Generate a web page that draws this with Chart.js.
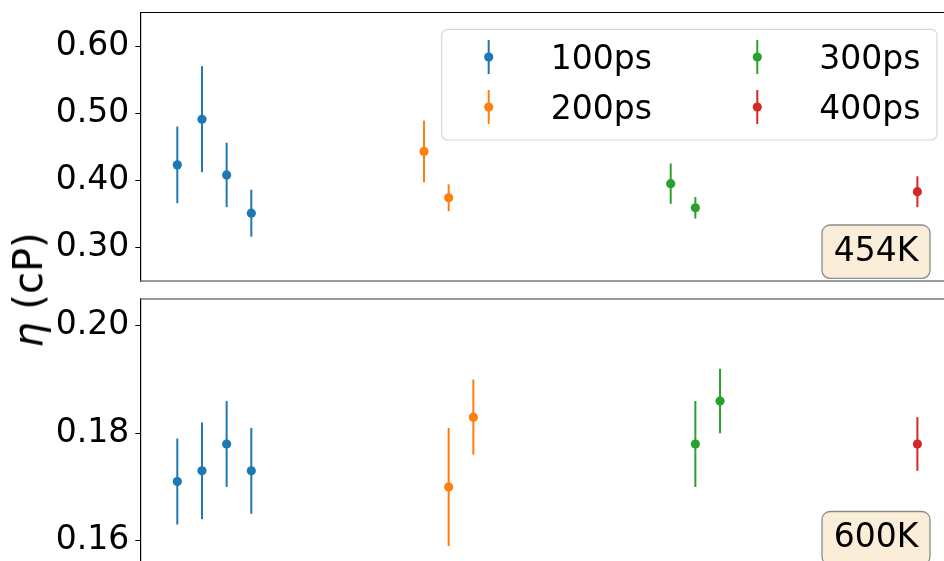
<!DOCTYPE html>
<html>
<head>
<meta charset="utf-8">
<script src="https://cdn.jsdelivr.net/npm/chart.js@4.4.1/dist/chart.umd.min.js"></script>
<style>
  html, body { margin:0; padding:0; background:#fff; }
  #wrap { position:relative; width:944px; height:561px; overflow:hidden; background:#fff; }
  .pane { position:absolute; left:0; width:960px; height:290px; }
  #ylab { position:absolute; left:28px; top:290px; transform:translate(-50%,-50%) rotate(-90deg);
          font-family:'DejaVu Sans'; font-size:40px; line-height:1; white-space:nowrap; color:#000; }
</style>
</head>
<body>
<div id="wrap">
  <div class="pane" style="top:0"><canvas id="c1" width="960" height="290"></canvas></div>
  <div class="pane" style="top:290px"><canvas id="c2" width="960" height="290"></canvas></div>
  <div id="ylab"><i>η</i> (cP)</div>
</div>
<script>
// ---- data ----
const SERIES = ['100ps', '200ps', '300ps', '400ps'];

// 454 K panel
const X454_100 = [1, 2, 3, 4];
const Y454_100 = [0.423, 0.491, 0.408, 0.351];
const E454_100 = [0.057, 0.079, 0.048, 0.035];
const X454_200 = [11, 12];
const Y454_200 = [0.443, 0.374];
const E454_200 = [0.046, 0.020];
const X454_300 = [21, 22];
const Y454_300 = [0.395, 0.359];
const E454_300 = [0.030, 0.016];
const X454_400 = [31];
const Y454_400 = [0.383];
const E454_400 = [0.023];

// 600 K panel
const X600_100 = [1, 2, 3, 4];
const Y600_100 = [0.171, 0.173, 0.178, 0.173];
const E600_100 = [0.008, 0.009, 0.008, 0.008];
const X600_200 = [12, 13];
const Y600_200 = [0.170, 0.183];
const E600_200 = [0.011, 0.007];
const X600_300 = [22, 23];
const Y600_300 = [0.178, 0.186];
const E600_300 = [0.008, 0.006];
const X600_400 = [31];
const Y600_400 = [0.178];
const E600_400 = [0.005];

const TICKS_454 = [0.30, 0.40, 0.50, 0.60];
const TICKS_600 = [0.16, 0.18, 0.20];
const PANEL_LABELS = ['454K', '600K'];

// ---- styles ----
const COLORS = ['#1f77b4', '#ff7f0e', '#2ca02c', '#d62728'];
const FONT = 'DejaVu Sans';

function makeDatasets(xs, ys, es) {
  return SERIES.map((name, k) => ({
    label: name,
    data: xs[k].map((x, i) => ({ x: x, y: ys[k][i] })),
    err: es[k],
    backgroundColor: COLORS[k],
    borderColor: COLORS[k],
    pointRadius: 4.6,
    pointHoverRadius: 4.6,
    pointBorderWidth: 0,
    showLine: false
  }));
}

const errorBars = {
  id: 'errorBars',
  beforeDatasetsDraw(chart) {
    const ctx = chart.ctx, xs = chart.scales.x, ys = chart.scales.y;
    ctx.save();
    ctx.lineWidth = 2;
    chart.data.datasets.forEach(ds => {
      ctx.strokeStyle = ds.borderColor;
      ds.data.forEach((p, i) => {
        const e = ds.err[i];
        const px = xs.getPixelForValue(p.x);
        ctx.beginPath();
        ctx.moveTo(px, ys.getPixelForValue(p.y + e));
        ctx.lineTo(px, ys.getPixelForValue(p.y - e));
        ctx.stroke();
      });
    });
    ctx.restore();
  }
};

function spines(topColor, bottomColor) {
  return {
    id: 'spines',
    afterDraw(chart) {
      const { ctx, chartArea: ca } = chart;
      ctx.save();
      if (topColor) {
        ctx.strokeStyle = topColor; ctx.lineWidth = topColor === '#000' ? 1.2 : 1.6;
        ctx.beginPath(); ctx.moveTo(ca.left, ca.top); ctx.lineTo(ca.right, ca.top); ctx.stroke();
      }
      if (bottomColor) {
        ctx.strokeStyle = bottomColor; ctx.lineWidth = 1.6;
        ctx.beginPath(); ctx.moveTo(ca.left, ca.bottom); ctx.lineTo(ca.right, ca.bottom); ctx.stroke();
      }
      ctx.restore();
    }
  };
}

function panelLabel(text) {
  return {
    id: 'panelLabel',
    afterDraw(chart) {
      const { ctx, chartArea: ca } = chart;
      const w = 108, h = 53.3;
      const x = ca.right - 24.4 - w, y = ca.bottom - 2.7 - h;
      ctx.save();
      ctx.beginPath();
      ctx.roundRect(x, y, w, h, 8);
      ctx.fillStyle = '#faeed9';
      ctx.fill();
      ctx.strokeStyle = '#8c8c8c';
      ctx.lineWidth = 1.3;
      ctx.stroke();
      ctx.fillStyle = '#000';
      ctx.font = '33px "' + FONT + '"';
      ctx.textAlign = 'center';
      ctx.textBaseline = 'alphabetic';
      ctx.fillText(text, x + w / 2, y + 35.7);
      ctx.restore();
    }
  };
}

const legendBox = {
  id: 'legendBox',
  afterDraw(chart) {
    const { ctx, chartArea: ca } = chart;
    const w = 495.3, h = 110.7;
    const x = ca.right - 17.4 - w, y = ca.top + 16.8;
    ctx.save();
    ctx.beginPath();
    ctx.roundRect(x, y, w, h, 6);
    ctx.fillStyle = 'rgba(255,255,255,0.8)';
    ctx.fill();
    ctx.strokeStyle = '#d6d6d6';
    ctx.lineWidth = 1.2;
    ctx.stroke();
    ctx.font = '33px "' + FONT + '"';
    ctx.textAlign = 'left';
    ctx.textBaseline = 'alphabetic';
    SERIES.forEach((name, k) => {
      const col = Math.floor(k / 2), row = k % 2;
      const mx = x + 47 + col * 268.6;
      const my = y + 27.7 + row * 50;
      ctx.strokeStyle = COLORS[k];
      ctx.lineWidth = 2;
      ctx.beginPath(); ctx.moveTo(mx, my - 17); ctx.lineTo(mx, my + 17); ctx.stroke();
      ctx.fillStyle = COLORS[k];
      ctx.beginPath(); ctx.arc(mx, my, 4.6, 0, Math.PI * 2); ctx.fill();
      ctx.fillStyle = '#000';
      ctx.fillText(name, mx + 62, my + 12);
    });
    ctx.restore();
  }
};

function yScale(min, max, ticks) {
  return {
    type: 'linear', min: min, max: max,
    afterBuildTicks(s) { s.ticks = ticks.map(v => ({ value: v })); },
    afterFit(s) { s.width = 140.3; s.paddingTop = 0; s.paddingBottom = 0; },
    ticks: { font: { family: FONT, size: 33 }, color: '#000', padding: 6,
             callback: v => Number(v).toFixed(2), autoSkip: false },
    grid: { drawOnChartArea: false, drawTicks: true, tickLength: 5, color: '#000', tickWidth: 1 },
    border: { display: true, color: '#000', width: 1.2 }
  };
}

function baseOptions(min, max, ticks, padTop, padBottom) {
  return {
    responsive: false,
    animation: false,
    devicePixelRatio: 1,
    layout: { padding: { left: 0, right: 5.6, top: padTop, bottom: padBottom } },
    plugins: { legend: { display: false }, tooltip: { enabled: false } },
    events: [],
    scales: {
      x: { type: 'linear', min: -0.5, max: 32.5, display: false },
      y: yScale(min, max, ticks)
    }
  };
}

Chart.defaults.color = '#000';
Chart.defaults.font.family = FONT;

new Chart(document.getElementById('c1'), {
  type: 'scatter',
  data: { datasets: makeDatasets(
    [X454_100, X454_200, X454_300, X454_400],
    [Y454_100, Y454_200, Y454_300, Y454_400],
    [E454_100, E454_200, E454_300, E454_400]) },
  options: baseOptions(0.25, 0.65, TICKS_454, 12.5, 9),
  plugins: [errorBars, spines('#000', '#7a7a7a'), panelLabel(PANEL_LABELS[0]), legendBox]
});

new Chart(document.getElementById('c2'), {
  type: 'scatter',
  data: { datasets: makeDatasets(
    [X600_100, X600_200, X600_300, X600_400],
    [Y600_100, Y600_200, Y600_300, Y600_400],
    [E600_100, E600_200, E600_300, E600_400]) },
  options: baseOptions(0.155, 0.205, TICKS_600, 9, 12.5),
  plugins: [errorBars, spines('#7a7a7a', null), panelLabel(PANEL_LABELS[1])]
});
</script>
</body>
</html>
